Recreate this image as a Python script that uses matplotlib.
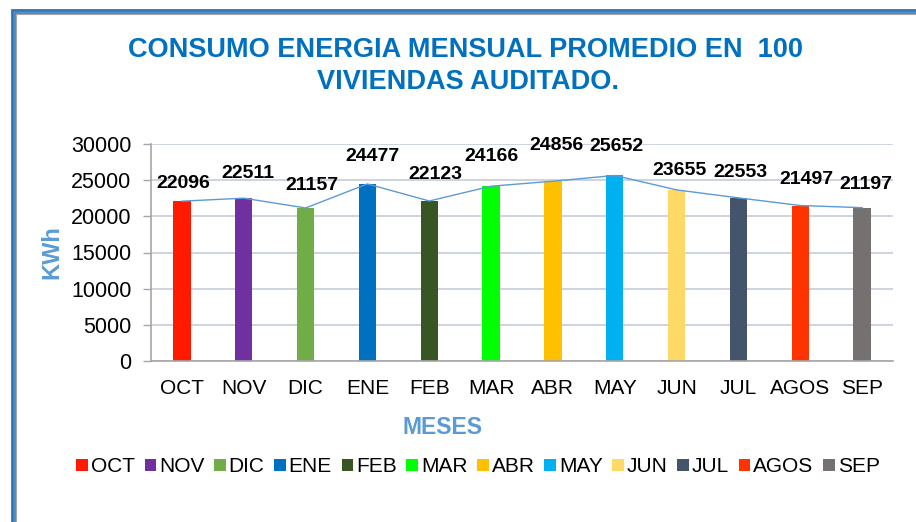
import matplotlib
matplotlib.use("Agg")
import matplotlib.pyplot as plt
from matplotlib.patches import Rectangle, Patch

months = ["OCT", "NOV", "DIC", "ENE", "FEB", "MAR", "ABR", "MAY", "JUN", "JUL", "AGOS", "SEP"]
consumo = [22096, 22511, 21157, 24477, 22123, 24166, 24856, 25652, 23655, 22553, 21497, 21197]
colors = ["#FF1A00", "#7030A0", "#70AD47", "#0070C0", "#375623", "#00FF00",
          "#FFC000", "#00B0F0", "#FFD966", "#44546A", "#FF3300", "#767171"]
yticks = [0, 5000, 10000, 15000, 20000, 25000, 30000]

# label placement (pixels relative to bar top)
label_dx = [1, 4, 6, 5, 6, 0, 4, 2, 3, 2, 6, 4]
label_dy = [18, 25, 22, 27, 26, 30, 36, 29, 19, 25, 26, 23]

plt.rcParams["font.family"] = ["Liberation Sans", "DejaVu Sans"]

W, H = 916, 522
fig = plt.figure(figsize=(W / 100, H / 100), dpi=100)
fig.patch.set_facecolor("white")

# double frame around the chart
def frame(x, y, lw, color):
    fig.patches.append(Rectangle((x / W, -0.2), 2.0, 1.0 - y / H + 0.2,
                                 transform=fig.transFigure, fill=False,
                                 edgecolor=color, linewidth=lw, zorder=0))

frame(12, 10, 2.0, "#2E75B6")
frame(14.8, 12.8, 1.2, "#2E75B6")
frame(16.0, 14.0, 0.8, "#A6A6A6")

ax = fig.add_axes([151 / W, 1 - 361 / H, (893 - 151) / W, (361 - 144) / H])
x = list(range(len(months)))
ax.bar(x, consumo, width=0.28, color=colors, zorder=3)
ax.plot(x, consumo, color="#5B9BD5", linewidth=1.0, zorder=4)

for i, v in enumerate(consumo):
    ax.annotate(str(v), (i, v), xytext=(label_dx[i], label_dy[i]),
                textcoords="offset pixels", ha="center", va="center",
                fontsize=14, fontweight="bold", color="black", zorder=5)

ax.set_xlim(-0.5, len(months) - 0.5)
ax.set_ylim(0, 30000)
ax.set_yticks(yticks)
ax.set_yticklabels([str(t) for t in yticks], fontsize=15.5)
ax.set_xticks(x)
ax.set_xticklabels(months, fontsize=15)
ax.tick_params(axis="x", length=0, pad=13)
ax.tick_params(axis="y", length=6, width=1, color="#A6A6A6", pad=8)
ax.grid(axis="y", color="#C5CCDA", linewidth=1.2, zorder=0)
for s in ["top", "right"]:
    ax.spines[s].set_visible(False)
for s in ["left", "bottom"]:
    ax.spines[s].set_color("#A6A6A6")
    ax.spines[s].set_linewidth(1.2)
    ax.spines[s].set_zorder(6)

fig.text(52 / W, 1 - 252 / H, "KWh", rotation=90, ha="center", va="center",
         fontsize=17, fontweight="bold", color="#5B9BD5")
fig.text(443 / W, 1 - 427 / H, "MESES", ha="center", va="center",
         fontsize=16.5, fontweight="bold", color="#5B9BD5")
fig.text(466 / W, 1 - 50 / H, "CONSUMO ENERGIA MENSUAL PROMEDIO EN  100",
         ha="center", va="center", fontsize=19.5, fontweight="bold", color="#0070C0")
fig.text(468 / W, 1 - 82 / H, "VIVIENDAS AUDITADO.",
         ha="center", va="center", fontsize=19.5, fontweight="bold", color="#0070C0")

handles = [Patch(facecolor=c, edgecolor="none") for c in colors]
fig.legend(handles, months, loc="center", bbox_to_anchor=(478 / W, 1 - 467 / H),
           ncol=len(months), frameon=False, fontsize=15,
           handlelength=0.55, handleheight=0.55, handletextpad=0.15,
           columnspacing=0.46, borderpad=0)

fig.savefig("out.png", dpi=100, facecolor="white")
